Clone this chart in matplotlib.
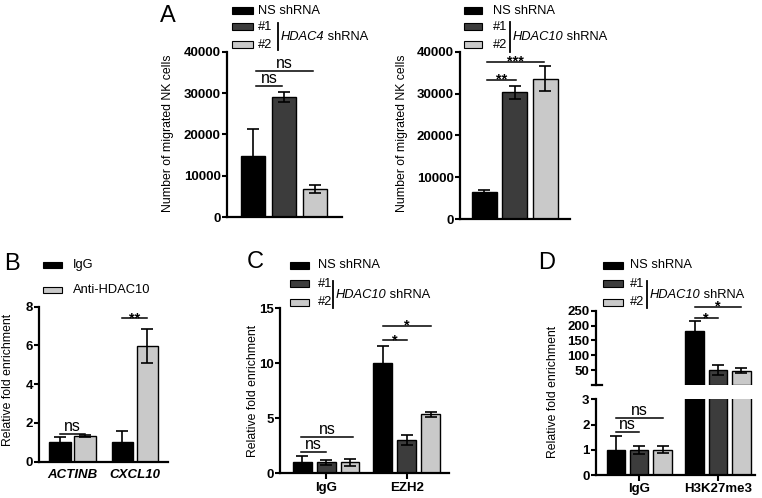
import matplotlib
matplotlib.use("Agg")
import matplotlib.pyplot as plt
from matplotlib.patches import Rectangle
from matplotlib.lines import Line2D

plt.rcParams['font.family'] = ['Liberation Sans', 'DejaVu Sans']

W, H = 762, 498

# ---- data ----
sh_labels = ['NS shRNA', '#1', '#2']
a4_mean = [14800, 29100, 6800]
a4_err = [6600, 1300, 900]
a10_mean = [6500, 30300, 33600]
a10_err = [500, 1500, 3000]

b_targets = ['ACTINB', 'CXCL10']
b_labels = ['IgG', 'Anti-HDAC10']
b_igg = [1.0, 1.0]
b_igg_err = [0.3, 0.57]
b_anti = [1.33, 5.97]
b_anti_err = [0.03, 0.88]

c_targets = ['IgG', 'EZH2']
c_ns = [1.0, 10.0]
c_ns_err = [0.55, 1.6]
c_sh1 = [1.0, 3.0]
c_sh1_err = [0.22, 0.45]
c_sh2 = [1.0, 5.35]
c_sh2_err = [0.32, 0.25]

d_targets = ['IgG', 'H3K27me3']
d_ns = [1.0, 183]
d_ns_err = [0.53, 32]
d_sh1 = [1.0, 50]
d_sh1_err = [0.15, 18]
d_sh2 = [1.0, 48]
d_sh2_err = [0.14, 9]

colors = ['#000000', '#3c3c3c', '#c9c9c9']

fig = plt.figure(figsize=(W / 100, H / 100), dpi=100)
renderer = fig.canvas.get_renderer()

TICK_FS = 9.5


def px_axes(left, top, right, bottom):
    return fig.add_axes([left / W, 1 - bottom / H, (right - left) / W, (bottom - top) / H])


def style(ax, yticks, ylabels=None, bottom=True):
    ax.spines['top'].set_visible(False)
    ax.spines['right'].set_visible(False)
    ax.spines['left'].set_linewidth(1.6)
    ax.spines['bottom'].set_linewidth(1.6)
    if not bottom:
        ax.spines['bottom'].set_visible(False)
    if ylabels is None:
        ylabels = [str(t) for t in yticks]
    ax.set_yticks(yticks, ylabels, fontweight='bold', fontsize=TICK_FS)
    ax.tick_params(axis='y', direction='out', length=3.5, width=1.5, pad=1)
    ax.tick_params(axis='x', direction='out', length=4, width=1.5, pad=2)
    ax.patch.set_alpha(0)


def bars(ax, x, vals, errs, color, width):
    ax.bar(x, vals, width=width, color=color, edgecolor='black', linewidth=1.0, zorder=2)
    ax.errorbar(x, vals, yerr=errs, fmt='none', ecolor='black', elinewidth=1.2,
                capsize=4, capthick=1.2, zorder=3)


def bracket(ax, x0, x1, y, label, size=11.5, off=0, weight='normal'):
    ax.plot([x0, x1], [y, y], color='black', lw=1.1, clip_on=False, zorder=4)
    ax.annotate(label, ((x0 + x1) / 2, y), xytext=(0, off), textcoords='offset points',
                ha='center', va='bottom', fontsize=size, fontweight=weight,
                annotation_clip=False)


def stars(ax, x0, x1, y, label):
    bracket(ax, x0, x1, y, label, size=10.5, off=-5, weight='bold')


def legend_row(x, y, color, label, pw=20, ph=7, tx=None):
    fig.add_artist(Rectangle((x / W, 1 - (y + ph / 2) / H), pw / W, ph / H,
                             transform=fig.transFigure, facecolor=color,
                             edgecolor='black', lw=0.8))
    fig.text((tx if tx else x + pw + 5) / W, 1 - y / H, label, va='center', fontsize=9.3)


def sh_legend(x, ys, tx, vx, gene, vy0, vy1, pw=20):
    for c, lab, y in zip(colors, sh_labels, ys):
        legend_row(x, y, c, lab, pw=pw, tx=tx)
    fig.add_artist(Line2D([vx / W, vx / W], [1 - vy0 / H, 1 - vy1 / H],
                          transform=fig.transFigure, color='black', lw=1.3))
    ym = 1 - ((vy0 + vy1) / 2) / H
    t = fig.text((vx + 2.5) / W, ym, gene, style='italic', va='center', fontsize=9.3)
    bb = t.get_window_extent(renderer=renderer)
    fig.text(bb.x1 / W, ym, ' shRNA', va='center', fontsize=9.3)


def ylab(x, y, text):
    fig.text(x / W, 1 - y / H, text, rotation=90, ha='center', va='center', fontsize=8.8)


def letter(x, y, t):
    fig.text(x / W, 1 - y / H, t, ha='center', va='center', fontsize=17)


# ---- panel A, HDAC4 ----
ax = px_axes(227, 52, 342, 217)
for i in range(3):
    bars(ax, [i], [a4_mean[i]], [a4_err[i]], colors[i], 0.79)
ax.set_xlim(-0.835, 2.87)
ax.set_ylim(0, 40000)
style(ax, [0, 10000, 20000, 30000, 40000])
ax.set_xticks([])
bracket(ax, 0.1, 0.95, 31800, 'ns')
bracket(ax, 0.1, 1.95, 35500, 'ns')
ylab(168, 133, 'Number of migrated NK cells')
sh_legend(232, [10.5, 26.5, 45], 258, 277.7, 'HDAC4', 23, 50, pw=21)
letter(168, 16, 'A')

# ---- panel A, HDAC10 ----
ax = px_axes(460, 52, 570, 219)
for i in range(3):
    bars(ax, [i], [a10_mean[i]], [a10_err[i]], colors[i], 0.82)
ax.set_xlim(-0.79, 2.81)
ax.set_ylim(0, 40000)
style(ax, [0, 10000, 20000, 30000, 40000])
ax.set_xticks([])
stars(ax, 0.1, 1.05, 33300, '**')
stars(ax, 0.1, 1.95, 37700, '***')
ylab(402, 133, 'Number of migrated NK cells')
sh_legend(464, [10.5, 26.5, 45], 492.7, 510, 'HDAC10', 22, 52, pw=18)

# ---- panel B ----
ax = px_axes(39.3, 306.7, 168, 461.7)
bx = [0, 1]
bars(ax, [x - 0.2 for x in bx], b_igg, b_igg_err, colors[0], 0.34)
bars(ax, [x + 0.2 for x in bx], b_anti, b_anti_err, colors[2], 0.34)
ax.set_xlim(-0.53, 1.53)
ax.set_ylim(0, 8)
style(ax, [0, 2, 4, 6, 8])
ax.set_xticks(bx, b_targets, fontstyle='italic', fontweight='bold', fontsize=TICK_FS)
ax.tick_params(axis='x', length=0, pad=5)
bracket(ax, -0.2, 0.2, 1.42, 'ns')
stars(ax, 0.8, 1.2, 7.4, '**')
ylab(8, 380, 'Relative fold enrichment')
legend_row(43, 265, colors[0], b_labels[0], pw=19, ph=6.5, tx=73)
legend_row(43, 290, colors[2], b_labels[1], pw=19, ph=6.5, tx=73)
letter(12, 264, 'B')

# ---- panel C ----
ax = px_axes(280, 308.3, 449, 473.3)
cx = [0, 1]
offs = [-0.296, 0, 0.296]
for o, v, e, c in zip(offs, [c_ns, c_sh1, c_sh2], [c_ns_err, c_sh1_err, c_sh2_err], colors):
    bars(ax, [x + o for x in cx], v, e, c, 0.234)
ax.set_xlim(-0.574, 1.525)
ax.set_ylim(0, 15)
style(ax, [0, 5, 10, 15])
ax.set_xticks(cx, c_targets, fontweight='bold', fontsize=TICK_FS)
bracket(ax, -0.31, 0.0, 1.97, 'ns')
bracket(ax, -0.31, 0.33, 3.33, 'ns')
stars(ax, 1 - 0.296, 1.0, 12.1, '*')
stars(ax, 1 - 0.296, 1.296, 13.4, '*')
ylab(253, 391, 'Relative fold enrichment')
sh_legend(290, [265, 284, 302], 318, 333, 'HDAC10', 281, 308, pw=19)
letter(255, 262, 'C')

# ---- panel D (broken y axis) ----
dx = [0, 1]
dvals = [d_ns, d_sh1, d_sh2]
derrs = [d_ns_err, d_sh1_err, d_sh2_err]
axl = px_axes(595.7, 399.3, 755, 475)
for o, v, e, c in zip(offs, dvals, derrs, colors):
    bars(axl, [x + o for x in dx], v, e, c, 0.235)
axl.set_xlim(-0.553, 1.47)
axl.set_ylim(0, 3)
style(axl, [0, 1, 2, 3])
axl.set_xticks(dx, d_targets, fontweight='bold', fontsize=TICK_FS)
bracket(axl, -0.297, 0.0, 1.69, 'ns')
bracket(axl, -0.297, 0.297, 2.27, 'ns')

axu = px_axes(595.7, 310.7, 755, 385)
for o, v, e, c in zip(offs, dvals, derrs, colors):
    bars(axu, [1 + o], [v[1]], [e[1]], c, 0.235)
axu.set_xlim(-0.553, 1.47)
axu.set_ylim(0, 250)
style(axu, [50, 100, 150, 200, 250], bottom=False)
axu.set_xticks([])
# end cap of the upper axis segment
axu.plot([-0.022, 0.038], [0, 0], transform=axu.get_yaxis_transform(),
         color='black', lw=1.6, clip_on=False)
stars(axu, 1 - 0.297, 1.0, 224, '*')
stars(axu, 1 - 0.297, 1.297, 264, '*')
ylab(553, 392, 'Relative fold enrichment')
sh_legend(603, [265, 284, 302], 630, 646.7, 'HDAC10', 281, 308)
letter(547, 263, 'D')

fig.savefig('out.png', dpi=100)
